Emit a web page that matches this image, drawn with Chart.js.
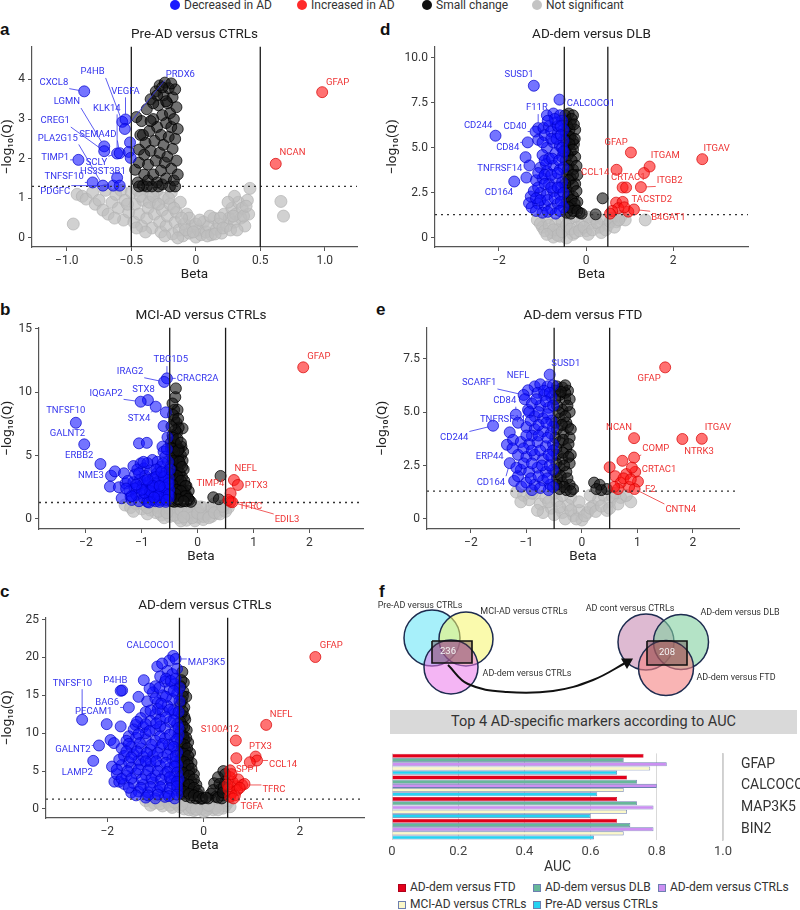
<!DOCTYPE html>
<html>
<head>
<meta charset="utf-8">
<script src="https://cdn.jsdelivr.net/npm/chart.js@4.4.1/dist/chart.umd.min.js"></script>
<style>
  html, body { margin: 0; padding: 0; background: #fff; font-family: Roboto, "Open Sans", sans-serif; overflow: hidden; }
  #fig { position: relative; width: 800px; height: 910px; overflow: hidden; }
  canvas { position: absolute; }
  .t { position: absolute; white-space: nowrap; color: #333; line-height: 16px; }
  .let { position: absolute; font: bold 17px "Liberation Sans", Arial, sans-serif; color: #111; }
  .dot { position: absolute; width: 10px; height: 10px; border-radius: 50%; }
  .sq { position: absolute; width: 6px; height: 6px; border: 1px solid #6d7fb0; }
</style>
</head>
<body>
<div id="fig">
  <!-- legenda do topo -->
  <div class="dot" style="left:170px;top:0px;background:#1a1aff"></div>
  <div class="t" style="left:184px;top:-3px;font-size:12px">Decreased in AD</div>
  <div class="dot" style="left:297px;top:0px;background:#ff2a2a"></div>
  <div class="t" style="left:311px;top:-3px;font-size:12px">Increased in AD</div>
  <div class="dot" style="left:422px;top:0px;background:#111"></div>
  <div class="t" style="left:436px;top:-3px;font-size:12px">Small change</div>
  <div class="dot" style="left:532px;top:0px;background:#c4c4c4"></div>
  <div class="t" style="left:546px;top:-3px;font-size:12px">Not significant</div>

  <div class="let" style="left:0px;top:20px">a</div>
  <div class="let" style="left:380px;top:20px">d</div>
  <div class="let" style="left:0px;top:300px">b</div>
  <div class="let" style="left:376px;top:300px">e</div>
  <div class="let" style="left:0px;top:582px">c</div>
  <div class="let" style="left:379px;top:582px">f</div>

  <canvas id="pa" width="365" height="266" style="left:0px;top:21px"></canvas>
  <canvas id="pd" width="371" height="266" style="left:385px;top:21px"></canvas>
  <canvas id="pb" width="371" height="267" style="left:0px;top:302px"></canvas>
  <canvas id="pe" width="372" height="267" style="left:375px;top:302px"></canvas>
  <canvas id="pc" width="372" height="266" style="left:0px;top:592px"></canvas>

  <canvas id="venn" width="422" height="110" style="left:378px;top:598px"></canvas>
  <div class="t" style="left:390px;top:710px;width:407px;height:24px;line-height:24px;background:#d9d9d9;text-align:center;font-size:14.5px">Top 4 AD-specific markers according to AUC</div>
  <canvas id="bars" width="420" height="141" style="left:380px;top:735px"></canvas>

  <!-- legenda das barras -->
  <div class="sq" style="left:398px;top:884px;background:#e3001b;border-color:#b0001a"></div>
  <div class="t" style="left:410px;top:879px;font-size:12px">AD-dem versus FTD</div>
  <div class="sq" style="left:533px;top:884px;background:#67b89a"></div>
  <div class="t" style="left:545px;top:879px;font-size:12px">AD-dem versus DLB</div>
  <div class="sq" style="left:658px;top:884px;background:#cc8ff2"></div>
  <div class="t" style="left:670px;top:879px;font-size:12px">AD-dem versus CTRLs</div>
  <div class="sq" style="left:398px;top:901px;background:#fbf8c8"></div>
  <div class="t" style="left:410px;top:896px;font-size:12px">MCI-AD versus CTRLs</div>
  <div class="sq" style="left:533px;top:901px;background:#25d3f2"></div>
  <div class="t" style="left:545px;top:896px;font-size:12px">Pre-AD versus CTRLs</div>
</div>

<script>
// ---- dados (beta, -log10 Q) ----
const qCut = 1.3;

// painel a: Pre-AD versus CTRLs
const aRed = [[0.98,3.68],[0.62,1.87]];
const aBlue = [[-0.865,3.70],[-0.57,2.93],[-0.545,2.99],[-0.55,2.75],[-0.71,2.31],[-0.71,2.19],[-0.61,2.13],[-0.59,2.14],
  [-0.51,2.41],[-0.52,2.17],[-0.505,2.02],[-0.91,1.97],[-0.80,1.40],[-0.72,1.32],[-0.64,1.32],[-0.61,1.52],[-0.59,1.32]];
const aBlack = [[-0.46,3.05],[-0.44,2.23],[-0.47,1.72],[-0.45,1.4],[-0.44,1.9],[-0.43,2.6],[-0.42,2.95],[-0.41,1.32],
  [-0.40,1.6],[-0.40,2.1],[-0.39,2.4],[-0.38,3.25],[-0.37,1.45],[-0.37,1.85],[-0.36,2.7],[-0.35,3.5],[-0.35,2.2],
  [-0.34,1.3],[-0.33,1.6],[-0.33,3.0],[-0.32,2.45],[-0.31,3.7],[-0.31,1.95],[-0.30,2.8],[-0.30,1.4],[-0.29,3.35],
  [-0.28,2.15],[-0.28,3.85],[-0.27,1.7],[-0.27,2.6],[-0.26,3.1],[-0.26,1.35],[-0.25,3.6],[-0.25,2.35],[-0.24,1.9],
  [-0.24,3.92],[-0.23,2.9],[-0.23,1.5],[-0.22,3.4],[-0.22,2.05],[-0.21,3.78],[-0.21,2.55],[-0.20,1.3],[-0.20,3.15],
  [-0.19,1.75],[-0.19,2.8],[-0.18,3.55],[-0.18,2.25],[-0.17,1.45],[-0.17,3.0],[-0.16,2.5],[-0.16,3.75],[-0.15,1.95],
  [-0.15,3.3],[-0.14,2.75],[-0.14,1.6],[-0.16,1.3],[-0.29,1.3],[-0.38,1.3],[-0.44,1.3],[-0.35,2.95],[-0.30,3.6],
  [-0.23,3.45],[-0.19,3.9],[-0.26,3.8],[-0.33,3.4],[-0.41,2.6]];
const aGrey = [[-0.95,0.35],[-0.92,1.1],[-0.88,1.05],[-0.85,0.98],[-0.8,1.15],[-0.78,0.85],[-0.75,0.95],[-0.72,0.7],
  [-0.7,1.2],[-0.68,0.6],[-0.65,0.9],[-0.62,1.1],[-0.6,0.75],[-0.58,1.2],[-0.56,0.45],[-0.55,0.95],[-0.52,0.65],
  [-0.5,1.15],[-0.48,0.4],[-0.47,0.85],[-0.45,1.2],[-0.44,0.6],[-0.42,0.3],[-0.41,0.95],[-0.4,1.25],[-0.38,0.5],
  [-0.37,0.75],[-0.35,1.1],[-0.34,0.25],[-0.32,0.6],[-0.31,0.9],[-0.3,1.2],[-0.28,0.4],[-0.27,0.15],[-0.26,0.7],
  [-0.25,1.0],[-0.23,0.3],[-0.22,0.55],[-0.2,0.85],[-0.19,1.15],[-0.18,0.1],[-0.16,0.4],[-0.15,0.65],[-0.13,0.2],
  [-0.12,0.9],[-0.1,0.05],[-0.09,0.35],[-0.07,0.6],[-0.05,0.12],[-0.03,0.3],[0,0.02],[0.02,0.2],[0.04,0.08],[0.06,0.4],
  [0.08,0.15],[0.1,0.3],[0.12,0.08],[0.14,0.5],[0.16,0.22],[0.18,0.35],[0.2,0.12],[0.22,0.6],[0.24,0.3],[0.26,0.5],
  [0.28,0.75],[0.3,0.4],[0.31,0.6],[0.33,0.9],[0.35,0.5],[0.36,0.75],[0.38,0.3],[0.4,0.95],[0.41,0.6],[0.42,1.25],
  [0.3,1.05],[0.25,0.9],[-0.05,0.5],[0.0,0.35],[0.66,0.92],[0.68,0.55],
  [-0.43,1.05],[-0.36,0.9],[-0.33,1.05],[-0.29,0.85],[-0.21,1.0],[-0.17,0.75],[-0.11,0.5],[-0.08,0.2],[-0.02,0.15],
  [0.03,0.45],[0.09,0.05],[0.11,0.55],[0.15,0.1],[0.19,0.5],[0.21,0.25],[0.27,0.2],[0.29,0.55],[0.32,0.2],[0.37,0.55],
  [0.39,0.8],[-0.39,0.15],[-0.46,0.25],[-0.53,0.85],[-0.63,0.5],[-0.24,0.05],[-0.14,0.0]];
const aLabels = [['CXCL8',-0.865,3.70,-1.10,3.92],['P4HB',-0.57,2.93,-0.80,4.19],['VEGFA',-0.545,2.99,-0.545,3.70],
  ['PRDX6',-0.55,2.75,-0.12,4.13],['LGMN',-0.71,2.31,-1.0,3.43],['KLK14',-0.61,2.13,-0.69,3.27],['CREG1',-0.71,2.19,-1.09,2.95],
  ['SEMA4D',-0.59,2.14,-0.76,2.61],['PLA2G15',-0.72,1.32,-1.07,2.51],['TIMP1',-0.91,1.97,-1.09,2.02],['SCLY',-0.61,2.13,-0.77,1.91],
  ['HS3ST3B1',-0.61,1.52,-0.72,1.68],['TNFSF10',-0.80,1.40,-1.02,1.55],['PDGFC',-0.64,1.32,-1.09,1.17],
  ['GFAP',0.98,3.68,1.10,3.93],['NCAN',0.62,1.87,0.75,2.16]];
const aXTicks = [-1, -0.5, 0, 0.5, 1];
const aYTicks = [0, 1, 2, 3, 4];

// painel b: MCI-AD versus CTRLs
const bRed = [[1.89,11.95],[0.65,3.07],[0.72,2.68],[0.59,2.02],[0.59,1.36],[0.62,1.32],[0.55,1.5]];
const bBlue = [[-0.55,11.08],[-0.60,10.8],[-0.89,9.37],[-1.02,9.24],[-0.75,8.85],[-0.57,8.4],[-2.18,7.58],[-0.61,7.32],
  [-0.54,6.43],[-2.03,5.88],[-1.05,5.96],[-0.91,6.0],[-0.63,5.7],[-0.61,5.3],[-1.74,4.33],[-1.55,3.41],[-1.48,3.75],
  [-1.57,2.55],[-1.41,2.5],[-1.36,1.63],[-1.32,3.6],[-1.29,2.8],[-1.15,4.17],[-1.02,4.38],[-0.96,3.99],[-0.81,4.65],
  [-0.72,4.51],[-1.2,1.76],[-1.22,2.2],[-1.18,1.5],[-1.15,2.9],[-1.12,3.5],[-1.1,1.9],[-1.08,2.5],[-1.05,1.4],[-1.03,3.1],
  [-1.0,2.0],[-0.98,2.7],[-0.96,1.6],[-0.94,3.4],[-0.92,2.3],[-0.9,1.35],[-0.88,2.9],[-0.86,1.9],[-0.85,3.8],[-0.83,2.5],
  [-0.81,1.5],[-0.8,3.2],[-0.78,2.1],[-0.76,2.8],[-0.75,1.4],[-0.73,3.6],[-0.72,1.8],[-0.7,2.4],[-0.69,3.0],[-0.67,1.5],
  [-0.66,4.1],[-0.65,2.1],[-0.63,2.7],[-0.62,3.4],[-0.6,1.7],[-0.59,2.3],[-0.58,3.0],[-0.57,1.35],[-0.56,3.7],[-0.55,2.0],
  [-0.54,2.6],[-0.53,4.5],[-0.52,1.6],[-0.52,3.2],[-0.51,2.3],[-1.08,3.9],[-0.9,4.4],[-0.95,2.05],[-1.13,2.4],[-0.87,1.3],
  [-0.68,1.35],[-0.58,4.9],[-0.55,5.5],[-0.62,4.4],[-0.74,3.9],[-0.97,4.5],
  [-1.25,3.0],[-1.05,3.6],[-0.95,3.0],[-0.85,2.2],[-0.75,3.3],[-0.7,1.9],[-0.6,2.5],[-0.6,3.3],[-0.52,2.8],[-0.52,1.9],
  [-0.5,3.9],[-0.65,3.7],[-0.8,2.6],[-0.9,3.1],[-1.0,2.3],[-1.1,2.7],[-1.18,1.8],[-1.28,2.4],[-0.78,1.7],[-0.68,2.6],
  [-0.56,1.5]];
const bBlack = [[-0.39,10.29],[-0.4,9.6],[-0.42,8.6],[-0.36,8.6],[-0.27,7.14],[-0.42,7.8],[-0.37,6.8],[-0.45,9.1],
  [-0.44,8.2],[-0.38,7.6],[-0.34,7.2],[-0.48,6.0],[-0.45,5.6],[-0.42,6.1],[-0.38,5.8],[-0.33,5.5],[-0.3,5.0],[-0.47,5.1],
  [-0.43,4.8],[-0.39,4.5],[-0.35,4.9],[-0.31,4.3],[-0.27,4.6],[-0.25,3.9],[-0.48,4.2],[-0.44,3.8],[-0.4,3.5],[-0.36,4.0],
  [-0.32,3.6],[-0.28,3.3],[-0.24,3.0],[-0.2,2.6],[-0.47,3.2],[-0.43,2.9],[-0.39,2.6],[-0.35,3.1],[-0.31,2.7],[-0.27,2.3],
  [-0.23,2.1],[-0.19,1.8],[-0.16,2.2],[-0.48,2.4],[-0.44,2.0],[-0.4,1.7],[-0.36,2.2],[-0.32,1.9],[-0.28,1.5],[-0.24,1.7],
  [-0.2,1.4],[-0.15,1.5],[-0.12,1.35],[-0.46,1.4],[-0.42,1.35],[-0.36,1.4],[-0.3,1.35],[-0.29,5.7],[-0.26,5.3],[-0.45,6.6],
  [-0.4,7.0],[0.41,3.39],[0.28,1.71],[0.38,1.56],
  [-0.48,5.6],[-0.42,5.3],[-0.35,5.4],[-0.45,4.6],[-0.33,4.5],[-0.28,4.1],[-0.45,3.5],[-0.37,3.4],[-0.3,3.0],[-0.22,2.6],
  [-0.45,2.7],[-0.38,2.3],[-0.3,2.2],[-0.22,1.8],[-0.17,1.6],[-0.4,2.0],[-0.35,1.55],[-0.25,1.4],[-0.48,1.8],[-0.5,3.6],
  [-0.44,6.4],[-0.36,6.3],[-0.3,6.0],[-0.47,7.3],[-0.35,7.9]];
const bGrey = [[-1.3,1.1],[-1.2,0.9],[-1.1,1.2],[-1.0,0.8],[-0.95,1.1],[-0.85,0.7],[-0.8,1.05],[-0.75,0.5],[-0.7,0.9],
  [-0.65,0.3],[-0.6,0.75],[-0.55,1.1],[-0.5,0.2],[-0.45,0.6],[-0.4,0.95],[-0.35,0.1],[-0.3,0.45],[-0.25,0.8],[-0.2,-0.1],
  [-0.15,0.3],[-0.1,0.6],[-0.05,-0.15],[0,0.15],[0.05,0.4],[0.1,-0.05],[0.15,0.3],[0.2,0.6],[0.25,0.2],[0.3,0.8],
  [0.35,0.45],[0.4,1.0],[0.45,0.7],[0.5,1.15],[0.55,0.9],[-0.9,0.4],[-0.6,0.1],[-0.3,-0.15],[0.1,0.9],[-0.05,1.0],
  [-0.2,1.15],[0.3,1.2],[0.25,0.95],[0.0,0.7],
  [-1.15,0.6],[-0.9,0.9],[-0.7,0.6],[-0.5,0.85],[-0.42,0.3],[-0.3,0.7],[-0.18,0.45],[-0.1,0.1],[0.0,0.45],[0.1,0.2],
  [0.2,0.1],[0.3,0.5],[0.4,0.4],[0.5,0.6],[0.45,1.0],[-0.25,0.15],[0.05,0.95],[-0.55,0.5]];
const bLabels = [['TBC1D5',-0.55,11.08,-0.48,12.52],['CRACR2A',-0.55,11.08,0.0,11.08],['IRAG2',-0.60,10.8,-1.21,11.6],
  ['STX8',-0.89,9.37,-0.97,10.16],['IQGAP2',-1.02,9.24,-1.64,9.9],['STX4',-0.75,8.85,-1.05,7.93],['TNFSF10',-2.18,7.58,-2.36,8.53],
  ['GALNT2',-2.03,5.88,-2.33,6.7],['ERBB2',-1.74,4.33,-2.12,4.99],['NME3',-1.55,3.41,-1.91,3.39],['GFAP',1.89,11.95,2.17,12.78],
  ['NEFL',0.65,3.07,0.86,3.99],['PTX3',0.72,2.68,1.05,2.6],['TIMP4',0.59,2.02,0.23,2.81],['TFRC',0.59,1.36,0.95,0.97],
  ['EDIL3',0.62,1.32,1.60,-0.08]];
const bXTicks = [-2, -1, 0, 1, 2];
const bYTicks = [0, 5, 10, 15];

// painel c: AD-dem versus CTRLs
const cRed = [[2.32,20.06],[1.30,11.1],[0.67,9.04],[1.08,6.92],[1.11,6.4],[0.96,6.17],[0.68,6.7],[0.55,5.1],[0.80,3.17],
  [0.68,3.0],[0.55,4.2],[0.6,3.6],[0.72,3.9],[0.52,2.6],[0.6,2.2],[0.7,2.5],[0.85,3.3],[0.55,1.6],[0.65,1.8],[0.75,2.8],
  [0.5,3.2],[0.58,4.6],[0.62,1.4]];
const cBlue = [[-0.63,20.2],[-0.71,19.6],[-0.58,19.8],[-0.96,18.8],[-0.86,19.2],[-1.69,15.65],[-1.72,15.6],[-1.24,17.0],
  [-2.52,11.77],[-2.01,11.2],[-1.55,13.4],[-1.35,14.8],[-1.17,14.2],[-1.72,10.9],[-1.41,11.1],[-1.93,9.1],[-1.86,8.7],
  [-1.55,9.6],[-2.17,8.38],[-2.29,6.35],[-1.85,3.61],[-1.75,3.6],[-1.5,2.16],
  [-0.75,18.2],[-0.65,17.8],[-0.9,17.5],[-0.55,18.5],[-0.8,16.8],[-0.6,16.5],[-1.0,16.2],
  [-0.7,15.8],[-0.55,15.2],[-0.85,15.0],[-1.05,15.4],[-0.65,14.5],[-0.95,14.0],[-0.5,14.2],[-0.75,13.6],
  [-1.2,12.8],[-1.0,12.5],[-0.85,12.9],[-0.6,12.6],[-1.3,12.0],[-1.1,11.6],[-0.9,11.8],[-0.7,11.5],[-0.55,11.2],
  [-1.45,10.5],[-1.25,10.8],[-1.0,10.4],[-0.8,10.6],[-0.6,10.2],
  [-1.6,9.0],[-1.4,9.4],[-1.2,9.2],[-1.0,9.0],[-0.8,9.3],[-0.6,8.9],[-1.7,8.0],[-1.5,8.2],[-1.3,8.0],[-1.1,7.8],
  [-0.9,8.1],[-0.7,7.9],[-0.55,7.5],[-1.65,7.0],[-1.45,7.2],[-1.25,6.9],[-1.05,7.0],[-0.85,6.8],[-0.65,6.6],
  [-1.9,5.6],[-1.7,5.8],[-1.5,5.5],[-1.3,5.9],[-1.1,5.6],[-0.9,5.7],[-0.7,5.4],[-0.55,5.8],[-1.8,4.6],[-1.6,4.4],
  [-1.4,4.7],[-1.2,4.5],[-1.0,4.4],[-0.8,4.6],[-0.6,4.3],
  [-1.65,3.3],[-1.45,3.4],[-1.25,3.2],[-1.05,3.5],[-0.85,3.1],[-0.65,3.3],[-1.35,2.3],[-1.15,2.2],[-0.95,2.4],
  [-0.75,2.1],[-0.55,2.5],[-1.2,1.5],[-1.0,1.4],[-0.8,1.6],[-0.6,1.4],
  [-0.52,9.8],[-0.58,6.2],[-0.52,4.0],[-0.62,13.0],[-0.5,16.0],[-0.68,3.8],[-0.72,8.5],[-0.95,13.2],[-1.1,6.3],
  [-1.35,6.4],[-1.55,6.2],[-1.7,4.0],[-0.9,10.9],[-1.2,10.0],
  [-0.78,17.2],[-0.68,16.9],[-0.92,16.0],[-0.58,17.2],[-1.12,15.9],[-0.78,14.8],[-0.62,15.6],[-1.0,14.6],[-0.88,13.9],
  [-0.7,13.1],[-1.1,13.0],[-0.52,12.8],[-1.38,11.5],[-1.2,11.2],[-0.98,11.3],[-0.78,12.1],[-0.62,11.7],[-0.52,10.7],
  [-1.35,9.9],[-1.12,10.3],[-0.9,9.6],[-0.7,9.8],[-0.55,9.2],[-1.55,8.6],[-1.32,8.7],[-1.08,8.5],[-0.85,8.6],[-0.62,8.2],
  [-1.6,7.6],[-1.38,7.6],[-1.18,7.4],[-0.95,7.4],[-0.75,7.2],[-0.58,7.0],[-1.75,6.5],[-1.5,6.8],[-1.2,6.3],[-0.98,6.3],
  [-0.78,6.1],[-0.6,5.6],[-1.8,5.2],[-1.58,5.0],[-1.35,5.2],[-1.15,5.1],[-0.95,5.0],[-0.75,4.9],[-0.55,4.8],[-1.5,4.0],
  [-1.28,3.9],[-1.08,4.0],[-0.88,3.9],[-0.7,4.2],[-0.55,3.6],[-1.55,2.8],[-1.3,2.8],[-1.1,2.9],[-0.9,2.9],[-0.7,2.7],
  [-0.55,3.0],[-1.4,1.8],[-1.15,1.8],[-0.95,1.9],[-0.72,1.7],[-0.55,1.9]];
const cBlack = [[-0.41,16.7],[-0.44,18.1],[-0.46,17.0],[-0.42,15.5],[-0.45,14.3],[-0.40,13.4],[-0.46,12.5],[-0.38,11.8],
  [-0.44,11.0],[-0.35,10.4],[-0.46,9.8],[-0.4,9.2],[-0.32,8.8],[-0.45,8.3],[-0.37,7.7],[-0.28,7.4],[-0.44,7.0],[-0.33,6.5],
  [-0.25,6.1],[-0.46,5.8],[-0.38,5.3],[-0.3,5.0],[-0.2,4.6],[-0.45,4.4],[-0.35,4.0],[-0.25,3.6],[-0.15,3.2],[-0.42,3.0],
  [-0.32,2.7],[-0.22,2.3],[-0.12,2.0],[-0.45,2.0],[-0.36,1.7],[-0.26,1.5],[-0.16,1.4],[-0.05,1.35],[-0.4,12.2],[-0.36,14.8],
  [0.41,5.0],[0.22,3.4],[0.3,4.2],[0.35,2.6],[0.15,2.0],[0.25,1.6],[0.4,1.8],[0.1,1.4],[0.45,3.6],[0.38,1.4],
  [-0.48,16.2],[-0.43,14.9],[-0.48,13.8],[-0.43,12.9],[-0.48,11.5],[-0.4,10.8],[-0.48,10.3],[-0.42,9.6],[-0.36,9.4],
  [-0.48,8.8],[-0.4,8.5],[-0.34,8.0],[-0.48,7.5],[-0.4,7.3],[-0.32,7.0],[-0.48,6.5],[-0.4,6.2],[-0.32,5.8],[-0.25,5.3],
  [-0.48,5.0],[-0.42,4.8],[-0.3,4.4],[-0.2,3.9],[-0.48,3.6],[-0.4,3.4],[-0.3,3.2],[-0.2,2.8],[-0.1,2.4],[-0.48,2.6],
  [-0.4,2.3],[-0.3,2.0],[-0.2,1.8],[-0.1,1.6],[-0.02,1.4],[0.05,1.5],[0.2,2.5],[0.33,3.3],[0.42,2.9],[0.45,4.6],
  [0.3,1.5],[0.4,2.2]];
const cGrey = [[-1.2,1.1],[-1.03,0.75],[-0.95,1.0],[-0.85,0.4],[-0.75,0.9],[-0.65,0.2],[-0.55,0.7],[-0.45,1.1],[-0.4,0.0],
  [-0.3,0.5],[-0.2,-0.2],[-0.1,0.3],[0,-0.35],[0.1,0.1],[0.2,-0.1],[0.3,0.4],[0.4,0.1],[0.5,0.8],[0.55,0.3],[-0.6,1.15],
  [-0.15,0.9],[0.2,0.8],[0.4,1.1],[-0.3,-0.1],[0.05,0.6],
  [-1.1,0.5],[-0.9,0.7],[-0.7,0.5],[-0.5,0.3],[-0.35,0.9],[-0.25,0.2],[-0.05,0.0],[0.05,-0.2],[0.15,0.4],[0.25,0.1],
  [0.35,0.7],[0.45,0.4],[0.5,1.1],[-0.45,0.6],[-0.15,-0.05],[0.3,-0.1],[0.1,0.5],[-0.6,0.9]];
const cLabels = [['CALCOCO1',-0.63,20.2,-1.10,21.6],['MAP3K5',-0.58,19.8,0.06,19.27],['TNFSF10',-2.52,11.77,-2.72,16.6],
  ['P4HB',-1.69,15.65,-1.83,16.9],['BAG6',-1.55,13.4,-2.0,14.0],['PECAM1',-2.01,11.2,-2.28,12.8],['GALNT2',-2.17,8.38,-2.71,7.8],
  ['LAMP2',-2.29,6.35,-2.62,4.8],['GFAP',2.32,20.06,2.65,21.56],['NEFL',1.30,11.1,1.61,12.43],['S100A12',0.67,9.04,0.34,10.45],
  ['PTX3',1.08,6.92,1.18,8.24],['CCL14',1.11,6.4,1.65,5.9],['SPP1',0.96,6.17,0.91,5.16],['TFRC',0.80,3.17,1.46,2.6],
  ['TGFA',0.68,3.0,1.0,0.3]];
const cXTicks = [-2, 0, 2];
const cYTicks = [0, 5, 10, 15, 20, 25];

// painel d: AD-dem versus DLB
const dRed = [[1.03,4.74],[2.67,4.37],[1.46,3.96],[1.33,3.6],[0.70,3.78],[0.84,2.8],[0.92,2.8],[1.26,2.82],[0.69,1.96],
  [0.84,2.0],[0.74,1.65],[0.97,1.46],[1.1,1.58],[0.6,1.5],[0.88,1.7],[0.55,1.35]];
const dBlue = [[-1.20,8.44],[-0.61,7.67],[-1.10,6.09],[-2.08,5.67],[-1.16,5.9],[-0.98,6.1],[-1.34,5.3],[-1.10,5.44],
  [-1.39,4.48],[-1.30,4.02],[-1.65,3.13],[-1.37,3.35],[-1.27,2.3],[-1.31,1.93],
  [-0.9,6.8],[-0.75,6.9],[-0.6,6.8],[-0.85,6.2],[-0.7,6.4],[-0.55,6.5],[-0.95,5.7],[-0.8,5.9],[-0.65,5.8],[-0.52,6.0],
  [-0.9,5.0],[-0.75,5.3],[-0.6,5.1],[-1.0,4.6],[-0.85,4.4],[-0.7,4.7],[-0.55,4.5],[-1.05,3.9],[-0.9,3.7],[-0.75,4.0],
  [-0.6,3.8],[-1.15,3.2],[-1.0,3.3],[-0.85,3.0],[-0.7,3.3],[-0.55,3.1],[-1.2,2.6],[-1.05,2.5],[-0.9,2.4],[-0.75,2.6],
  [-0.6,2.4],[-1.25,1.7],[-1.1,1.9],[-0.95,1.8],[-0.8,1.6],[-0.65,1.9],[-0.52,1.7],[-1.0,1.4],[-0.7,1.35],[-0.58,2.8],
  [-0.8,5.5],[-0.52,5.4],[-0.65,6.2],[-1.15,2.2],[-0.92,4.1],
  [-0.72,6.6],[-0.58,6.2],[-0.88,6.5],[-1.0,5.3],[-0.68,5.5],[-0.55,5.0],[-0.95,4.3],[-0.78,4.4],[-0.62,4.3],[-0.52,3.9],
  [-1.1,3.6],[-0.95,3.5],[-0.8,3.5],[-0.65,3.6],[-1.1,2.8],[-0.95,3.0],[-0.8,2.8],[-0.65,2.8],[-0.52,2.5],[-1.05,2.1],
  [-0.88,2.1],[-0.72,2.2],[-0.58,2.0],[-1.15,1.5],[-0.88,1.45],[-0.6,1.5],[-0.52,4.8],[-0.58,5.7]];
const dBlack = [[-0.4,6.9],[-0.3,6.8],[-0.45,6.5],[-0.35,6.3],[-0.25,6.0],[-0.47,5.9],[-0.4,5.6],[-0.3,5.4],[-0.45,5.0],
  [-0.35,4.8],[-0.25,4.5],[-0.47,4.3],[-0.4,4.0],[-0.3,3.8],[-0.45,3.5],[-0.35,3.3],[-0.25,3.0],[-0.47,2.8],[-0.4,2.5],
  [-0.3,2.3],[-0.2,2.0],[-0.45,2.0],[-0.35,1.8],[-0.25,1.6],[-0.15,1.4],[-0.45,1.4],[-0.35,1.35],[-0.2,3.5],[-0.28,5.2],
  [-0.38,6.0],[0.38,2.2],[0.22,1.31],
  [-0.48,6.8],[-0.33,6.6],[-0.43,6.2],[-0.28,6.3],[-0.36,5.6],[-0.46,5.4],[-0.26,5.5],[-0.38,5.2],[-0.3,4.9],[-0.42,4.6],
  [-0.33,4.3],[-0.22,4.0],[-0.42,3.8],[-0.3,3.5],[-0.4,3.2],[-0.3,2.9],[-0.22,2.6],[-0.42,2.3],[-0.33,2.1],[-0.26,1.9],
  [-0.4,1.7],[-0.3,1.5],[-0.2,1.5],[-0.1,1.35],[-0.48,3.0],[-0.48,4.8]];
const dGrey = [[-1.12,1.0],[-1.0,0.6],[-0.9,1.1],[-0.8,0.3],[-0.7,0.8],[-0.6,0.1],[-0.5,0.5],[-0.4,1.0],[-0.3,0.2],
  [-0.2,0.6],[-0.1,0.9],[0,0.4],[0.1,0.8],[0.2,1.1],[0.3,0.6],[0.4,1.0],[0.5,0.7],[0.6,1.1],[0.7,0.9],[0.8,1.2],
  [1.36,1.0],[-0.75,0.05],[-0.55,0.9],[-0.25,1.2],[0.05,1.15],[-0.45,0.0],[-0.65,0.45],[0.9,1.0],
  [-1.05,0.8],[-0.95,0.4],[-0.85,0.7],[-0.75,0.45],[-0.65,0.15],[-0.55,0.35],[-0.45,0.7],[-0.35,0.5],[-0.25,0.3],
  [-0.15,0.4],[-0.05,0.6],[0.05,0.2],[0.15,0.45],[0.25,0.85],[0.35,0.3],[0.45,0.45],[0.55,0.9],[0.65,0.6],[0.75,1.0],
  [-0.9,0.2]];
const dLabels = [['SUSD1',-1.20,8.44,-1.54,9.06],['CALCOCO1',-0.61,7.67,0.11,7.44],['F11R',-1.10,6.09,-1.13,7.2],
  ['CD244',-2.08,5.67,-2.48,6.22],['CD40',-1.16,5.9,-1.63,6.15],['CD84',-1.34,5.3,-1.80,5.02],['TNFRSF14',-1.30,4.02,-1.98,3.83],
  ['CD164',-1.65,3.13,-2.0,2.52],['GFAP',1.03,4.74,0.69,5.3],['ITGAV',2.67,4.37,3.0,4.94],['ITGAM',1.46,3.96,1.82,4.56],
  ['CCL14',0.70,3.78,0.21,3.65],['CRTAC1',0.84,2.8,0.97,3.32],['ITGB2',1.26,2.82,1.92,3.19],['TACSTD2',0.97,1.46,1.51,2.11],
  ['B4GAT1',1.1,1.58,1.89,1.15]];
const dXTicks = [-2, 0, 2];
const dYTicks = [0, 2.5, 5, 7.5, 10];

// painel e: AD-dem versus FTD
const eRed = [[1.50,7.09],[0.94,3.78],[1.81,3.74],[2.16,3.75],[0.94,2.87],[0.73,2.72],[0.50,2.42],[0.96,2.2],[1.01,1.75],
  [0.95,1.4],[0.6,2.0],[0.7,1.7],[0.8,2.1],[0.85,1.5],[0.65,1.4],[0.75,1.9],[0.88,1.85],[0.58,1.5],[0.9,2.4]];
const eBlue = [[-0.58,6.75],[-0.85,6.2],[-0.97,6.02],[-1.05,5.8],[-1.03,5.6],[-0.97,5.1],[-1.19,4.88],[-1.60,4.36],
  [-1.30,4.05],[-1.35,3.47],[-1.24,3.7],[-1.30,2.61],[-1.22,1.78],[-1.09,1.51],
  [-0.75,6.3],[-0.62,6.2],[-0.52,6.25],[-0.8,5.9],[-0.68,5.8],[-0.55,5.7],[-0.9,5.4],[-0.75,5.3],[-0.6,5.2],[-0.85,4.8],
  [-0.7,4.7],[-0.55,4.6],[-1.0,4.3],[-0.85,4.2],[-0.7,4.1],[-0.56,4.0],[-1.1,3.6],[-0.95,3.5],[-0.8,3.6],[-0.65,3.4],
  [-0.52,3.5],[-1.15,3.0],[-1.0,2.9],[-0.85,3.0],[-0.7,2.8],[-0.55,2.9],[-1.1,2.3],[-0.95,2.2],[-0.8,2.4],[-0.65,2.2],
  [-0.52,2.3],[-1.0,1.7],[-0.85,1.6],[-0.7,1.8],[-0.57,1.6],[-0.9,1.35],[-0.6,1.35],[-1.15,4.5],[-0.9,3.9],[-0.95,5.0],
  [-0.68,6.0],[-0.58,5.9],[-0.82,5.6],[-0.65,5.5],[-0.52,5.3],[-0.78,5.0],[-0.62,4.9],[-0.52,4.3],[-0.92,4.6],[-0.78,4.4],
  [-0.64,4.5],[-1.0,3.9],[-0.78,3.9],[-0.62,3.8],[-0.52,3.2],[-1.05,3.3],[-0.9,3.2],[-0.75,3.2],[-0.6,3.0],[-1.05,2.6],
  [-0.9,2.6],[-0.72,2.5],[-0.58,2.5],[-1.15,2.0],[-0.92,1.9],[-0.78,2.0],[-0.62,1.9],[-0.75,1.45],[-0.52,1.5],[-1.25,3.3],
  [-1.18,2.4]];
const eBlack = [[-0.45,6.2],[-0.35,6.15],[-0.25,6.0],[-0.4,5.8],[-0.3,5.6],[-0.45,5.3],[-0.35,5.1],[-0.22,5.0],[-0.4,4.7],
  [-0.28,4.5],[-0.45,4.2],[-0.33,4.0],[-0.22,3.8],[-0.4,3.6],[-0.28,3.3],[-0.45,3.0],[-0.35,2.8],[-0.22,2.6],[-0.4,2.4],
  [-0.28,2.2],[-0.45,1.9],[-0.35,1.7],[-0.22,1.6],[-0.4,1.4],[-0.28,1.35],[-0.16,1.4],[-0.3,5.9],[-0.25,4.3],[-0.2,3.0],
  [0.22,1.7],[0.32,1.6],[0.45,1.4],[0.35,1.35],[0.26,1.4],
  [-0.48,6.0],[-0.3,6.25],[-0.38,5.95],[-0.22,5.6],[-0.48,5.6],[-0.26,5.3],[-0.42,5.0],[-0.3,4.8],[-0.48,4.5],[-0.36,4.4],
  [-0.2,4.2],[-0.48,3.8],[-0.34,3.7],[-0.24,3.5],[-0.46,3.3],[-0.34,3.1],[-0.24,2.9],[-0.46,2.6],[-0.32,2.5],[-0.48,2.2],
  [-0.38,2.0],[-0.26,1.9],[-0.46,1.6],[-0.32,1.5],[-0.2,1.3]];
const eGrey = [[-1.18,1.25],[-1.05,1.1],[-0.95,0.9],[-0.85,1.2],[-0.75,0.7],[-0.65,1.0],[-0.55,0.5],[-0.45,0.85],
  [-0.35,0.3],[-0.25,0.65],[-0.15,0.15],[-0.05,0.4],[0,-0.05],[0.1,0.3],[0.2,0.6],[0.3,0.9],[0.4,1.1],[0.5,0.8],
  [0.6,1.2],[0.7,1.0],[0.88,0.8],[-0.5,1.2],[-0.2,1.0],[0.15,1.1],[0.45,0.4],[-0.7,0.3],[-0.3,0.0],
  [-1.1,0.8],[-0.9,1.2],[-0.8,0.4],[-0.6,0.8],[-0.5,0.2],[-0.4,0.55],[-0.2,0.4],[-0.1,0.0],[0.05,0.15],[0.15,0.5],
  [0.25,0.35],[0.35,0.6],[0.5,0.5],[0.55,1.05],[0.65,0.7],[0.8,1.1],[-0.05,0.8],[-0.35,1.1]];
const eLabels = [['SUSD1',-0.58,6.75,-0.29,7.27],['NEFL',-0.85,6.2,-1.15,6.7],['SCARF1',-1.05,5.8,-1.85,6.36],
  ['CD84',-1.19,4.88,-1.39,5.53],['TNFRSF14',-1.30,4.05,-1.43,4.64],['CD244',-1.60,4.36,-2.30,3.81],['ERP44',-1.35,3.47,-1.66,2.92],
  ['CD164',-1.30,2.61,-1.64,1.72],['GFAP',1.50,7.09,1.21,6.55],['NCAN',0.94,3.78,0.67,4.25],['ITGAV',2.16,3.75,2.45,4.25],
  ['NTRK3',1.81,3.74,2.11,3.16],['COMP',0.94,2.87,1.33,3.27],['CRTAC1',0.96,2.2,1.39,2.33],['F2',1.01,1.75,1.23,1.36],
  ['CNTN4',0.95,1.4,1.78,0.42]];
const eXTicks = [-2, -1, 0, 1, 2];
const eYTicks = [0, 2.5, 5, 7.5];

// painel f: AUC dos 4 marcadores
const markers = ['GFAP', 'CALCOCO1', 'MAP3K5', 'BIN2'];
const aucFTD = [0.76, 0.71, 0.68, 0.68];
const aucDLB = [0.70, 0.74, 0.74, 0.72];
const aucCTRL = [0.83, 0.80, 0.79, 0.79];
const aucMCI = [0.78, 0.70, 0.71, 0.70];
const aucPre = [0.68, 0.62, 0.60, 0.61];
const aucTicks = [0, 0.2, 0.4, 0.6, 0.8, 1.0];

// diagramas de Venn (esquema)
const vennLeftSets = ['Pre-AD versus CTRLs', 'MCI-AD versus CTRLs', 'AD-dem versus CTRLs'];
const vennRightSets = ['AD cont versus CTRLs', 'AD-dem versus DLB', 'AD-dem versus FTD'];
const vennCounts = [236, 208];

Chart.defaults.font.family = 'Roboto, "Open Sans", sans-serif';
Chart.defaults.color = '#333';

function fmt(dec) {
  return v => v === 0 ? '0' : (v < 0 ? '\u2212' : '') + Math.abs(v).toFixed(dec);
}

// rótulos dos genes com linha guia
function geneLabels(labels) {
  return {
    id: 'genes',
    afterDatasetsDraw(chart) {
      const ctx = chart.ctx, xs = chart.scales.x, ys = chart.scales.y;
      ctx.save();
      ctx.font = '9.5px Roboto, "Open Sans", sans-serif';
      ctx.textAlign = 'center';
      ctx.textBaseline = 'middle';
      labels.forEach(l => {
        const col = l[1] < 0 ? '#3434ee' : '#ee3434';
        const px = xs.getPixelForValue(l[1]), py = ys.getPixelForValue(l[2]);
        const tx = xs.getPixelForValue(l[3]), ty = ys.getPixelForValue(l[4]);
        const w = ctx.measureText(l[0]).width / 2 + 1, h = 6;
        const ex = Math.max(tx - w, Math.min(tx + w, px));
        const ey = Math.max(ty - h, Math.min(ty + h, py));
        const len = Math.hypot(ex - px, ey - py);
        if (len > 7) {
          const sx = px + (ex - px) * 5 / len, sy = py + (ey - py) * 5 / len;
          ctx.strokeStyle = col;
          ctx.lineWidth = 0.8;
          ctx.beginPath();
          ctx.moveTo(sx, sy);
          ctx.lineTo(ex, ey);
          ctx.stroke();
        }
        ctx.fillStyle = col;
        ctx.fillText(l[0], tx, ty);
      });
      ctx.restore();
    }
  };
}

function volcano(id, cfg) {
  const pts = a => a.map(p => ({x: p[0], y: p[1]}));
  const vline = x => ({data: [{x: x, y: cfg.yr[0]}, {x: x, y: cfg.yr[1]}], showLine: true,
    borderColor: '#1a1a1a', borderWidth: 1.3, pointRadius: 0, order: 1});
  const dots = (a, fill, line, ord, r) => ({data: pts(a), backgroundColor: fill, borderColor: line,
    borderWidth: 1, pointRadius: r, order: ord});
  new Chart(document.getElementById(id), {
    type: 'scatter',
    data: {
      datasets: [
        vline(-0.5), vline(0.5),
        {data: [{x: cfg.xr[0], y: qCut}, {x: cfg.xr[1], y: qCut}], showLine: true, borderColor: '#333',
          borderWidth: 1.3, borderDash: [2, 4], pointRadius: 0, order: 1},
        dots(cfg.red, 'rgba(255,20,20,0.6)', 'rgba(215,0,0,0.7)', 2, 5.5),
        dots(cfg.blue, 'rgba(15,15,255,0.58)', 'rgba(0,0,205,0.7)', 3, 5.5),
        dots(cfg.black, 'rgba(20,20,20,0.6)', 'rgba(0,0,0,0.75)', 4, 5.5),
        dots(cfg.grey, 'rgba(190,190,190,0.7)', 'rgba(178,178,178,0.7)', 5, 6)
      ]
    },
    options: {
      responsive: false, animation: false, devicePixelRatio: 1, events: [],
      layout: {padding: {right: 8}, autoPadding: false},
      plugins: {
        legend: {display: false}, tooltip: {enabled: false},
        title: {display: true, text: cfg.title, fullSize: false, color: '#222',
          font: {size: 13.5, weight: 'normal'}, padding: {top: 6, bottom: 3.4}}
      },
      scales: {
        x: {
          min: cfg.xr[0], max: cfg.xr[1],
          afterBuildTicks: s => { s.ticks = cfg.xt.map(v => ({value: v})); },
          afterFit: s => { s.height = 40; },
          grid: {display: true, drawOnChartArea: false, tickLength: 4, color: '#555'},
          border: {color: '#555', width: 1.2},
          ticks: {callback: fmt(cfg.xdec), font: {size: 12}, color: '#333', padding: 3, maxRotation: 0, autoSkip: false},
          title: {display: true, text: 'Beta', font: {size: 13.5}, color: '#222'}
        },
        y: {
          min: cfg.yr[0], max: cfg.yr[1],
          afterBuildTicks: s => { s.ticks = cfg.yt.map(v => ({value: v})); },
          afterFit: s => { s.width = cfg.yW; },
          grid: {display: true, drawOnChartArea: false, tickLength: 4, color: '#555'},
          border: {color: '#555', width: 1.2},
          ticks: {callback: fmt(cfg.ydec), font: {size: 12}, color: '#333', padding: 3, autoSkip: false},
          title: {display: true, text: '\u2212log\u2081\u2080(Q)', font: {size: 13.5}, color: '#222', padding: {top: 0, bottom: 0}}
        }
      }
    },
    plugins: [geneLabels(cfg.labels)]
  });
}

volcano('pa', {title: 'Pre-AD versus CTRLs', xr: [-1.27, 1.25], yr: [-0.23, 4.83], xt: aXTicks, yt: aYTicks,
  xdec: 1, ydec: 0, yW: 32, red: aRed, blue: aBlue, black: aBlack, grey: aGrey, labels: aLabels});
volcano('pd', {title: 'AD-dem versus DLB', xr: [-3.47, 3.72], yr: [-0.5, 10.61], xt: dXTicks, yt: dYTicks,
  xdec: 0, ydec: 1, yW: 50, red: dRed, blue: dBlue, black: dBlack, grey: dGrey, labels: dLabels});
volcano('pb', {title: 'MCI-AD versus CTRLs', xr: [-2.84, 2.96], yr: [-0.79, 15.08], xt: bXTicks, yt: bYTicks,
  xdec: 0, ydec: 0, yW: 39, red: bRed, blue: bBlue, black: bBlack, grey: bGrey, labels: bLabels});
volcano('pe', {title: 'AD-dem versus FTD', xr: [-2.79, 2.83], yr: [-0.47, 8.95], xt: eXTicks, yt: eYTicks,
  xdec: 0, ydec: 1, yW: 52, red: eRed, blue: eBlue, black: eBlack, grey: eGrey, labels: eLabels});
volcano('pc', {title: 'AD-dem versus CTRLs', xr: [-3.27, 3.33], yr: [-1.19, 25.26], xt: cXTicks, yt: cYTicks,
  xdec: 0, ydec: 0, yW: 46, red: cRed, blue: cBlue, black: cBlack, grey: cGrey, labels: cLabels});

// barras horizontais de AUC
const barBorder = '#6d7fb0';
new Chart(document.getElementById('bars'), {
  type: 'bar',
  data: {
    labels: markers,
    datasets: [
      {label: 'AD-dem versus FTD', data: aucFTD, backgroundColor: '#e3001b', borderColor: '#c0001a', borderWidth: 0.6},
      {label: 'AD-dem versus DLB', data: aucDLB, backgroundColor: '#67b89a', borderColor: barBorder, borderWidth: 0.8},
      {label: 'AD-dem versus CTRLs', data: aucCTRL, backgroundColor: '#cc8ff2', borderColor: barBorder, borderWidth: 0.8},
      {label: 'MCI-AD versus CTRLs', data: aucMCI, backgroundColor: '#fbf8c8', borderColor: barBorder, borderWidth: 0.8},
      {label: 'Pre-AD versus CTRLs', data: aucPre, backgroundColor: '#25d3f2', borderColor: barBorder, borderWidth: 0.8}
    ]
  },
  options: {
    indexAxis: 'y', responsive: false, animation: false, devicePixelRatio: 1, events: [],
    layout: {padding: {left: 12, top: 4}, autoPadding: false},
    datasets: {bar: {categoryPercentage: 0.97, barPercentage: 0.96}},
    plugins: {legend: {display: false}, tooltip: {enabled: false}},
    scales: {
      x: {
        min: 0, max: 1,
        afterBuildTicks: s => { s.ticks = aucTicks.map(v => ({value: v})); },
        afterFit: s => { s.height = 36; },
        grid: {color: '#d9d9d9', drawTicks: false},
        border: {display: false},
        ticks: {callback: fmt(1), font: {size: 13}, color: '#444', padding: 4, maxRotation: 0},
        title: {display: true, text: 'AUC', font: {size: 14}, color: '#333', padding: {top: 0, bottom: 0}}
      },
      y: {
        position: 'right',
        afterFit: s => { s.width = 77; },
        grid: {display: false},
        border: {display: true, color: '#cfcfcf', width: 1.5},
        ticks: {padding: 10, font: {size: 14}, color: '#333'}
      }
    }
  }
});

// Venn: círculos como bolhas, caixas e seta como linhas
const vennText = {
  id: 'vennText',
  afterDatasetsDraw(chart) {
    const ctx = chart.ctx, xs = chart.scales.x, ys = chart.scales.y;
    const put = (t, x, y, font, col) => {
      ctx.font = font; ctx.fillStyle = col;
      ctx.fillText(t, xs.getPixelForValue(x), ys.getPixelForValue(y));
    };
    ctx.save();
    ctx.textAlign = 'center';
    ctx.textBaseline = 'middle';
    const f = '9px Roboto, "Open Sans", sans-serif';
    put(vennLeftSets[0], 4.2, 0.8, f, '#333');
    put(vennLeftSets[1], 14.6, 1.4, f, '#333');
    put(vennLeftSets[2], 14.9, 7.6, f, '#333');
    put(vennRightSets[0], 25.2, 1.1, f, '#333');
    put(vennRightSets[1], 36.2, 1.5, f, '#333');
    put(vennRightSets[2], 35.8, 8.0, f, '#333');
    put(String(vennCounts[0]), 7.0, 5.4, '9.5px Roboto, sans-serif', '#f4f4f4');
    put(String(vennCounts[1]), 28.9, 5.5, '9.5px Roboto, sans-serif', '#f4f4f4');
    ctx.restore();
  }
};

const boxShape = (x0, x1, y0, y1) => [{x: x0, y: y0}, {x: x1, y: y0}, {x: x1, y: y1}, {x: x0, y: y1}, {x: x0, y: y0}];
const arrowPath = [{x: 7.0, y: 6.7}, {x: 9.0, y: 8.6}, {x: 12.9, y: 9.4}, {x: 17.5, y: 9.3}, {x: 21.5, y: 8.2}, {x: 24.9, y: 6.4}];

new Chart(document.getElementById('venn'), {
  type: 'bubble',
  data: {
    datasets: [
      {type: 'line', data: arrowPath, borderColor: '#111', borderWidth: 2, tension: 0.4,
        pointRadius: [0, 0, 0, 0, 0, 5], pointStyle: 'triangle', pointRotation: 60,
        pointBackgroundColor: '#111', pointBorderColor: '#111', order: 0},
      {type: 'line', data: boxShape(5.4, 9.4, 4.3, 6.5), borderColor: '#111', borderWidth: 1.6, tension: 0,
        backgroundColor: 'rgba(95,55,60,0.4)', fill: 'shape', pointRadius: 0, order: 1},
      {type: 'line', data: boxShape(26.9, 30.9, 4.3, 6.7), borderColor: '#111', borderWidth: 1.6, tension: 0,
        backgroundColor: 'rgba(95,55,60,0.4)', fill: 'shape', pointRadius: 0, order: 1},
      {data: [{x: 5.4, y: 4.0, r: 28}, {x: 8.8, y: 4.1, r: 27}, {x: 7.3, y: 6.9, r: 27},
              {x: 26.8, y: 4.4, r: 28}, {x: 30.3, y: 4.4, r: 27.5}, {x: 28.8, y: 7.0, r: 27.5}],
        backgroundColor: ['rgba(95,228,245,0.55)', 'rgba(245,245,105,0.55)', 'rgba(235,120,235,0.55)',
                          'rgba(200,140,180,0.6)', 'rgba(130,208,160,0.6)', 'rgba(245,130,130,0.6)'],
        borderColor: '#1d2b4f', borderWidth: 1.5, order: 2, clip: false}
    ]
  },
  options: {
    responsive: false, animation: false, devicePixelRatio: 1, events: [],
    layout: {autoPadding: false},
    plugins: {legend: {display: false}, tooltip: {enabled: false}},
    scales: {
      x: {display: false, min: 0, max: 42.2},
      y: {display: false, min: 0, max: 11, reverse: true}
    }
  },
  plugins: [vennText]
});
</script>
</body>
</html>
